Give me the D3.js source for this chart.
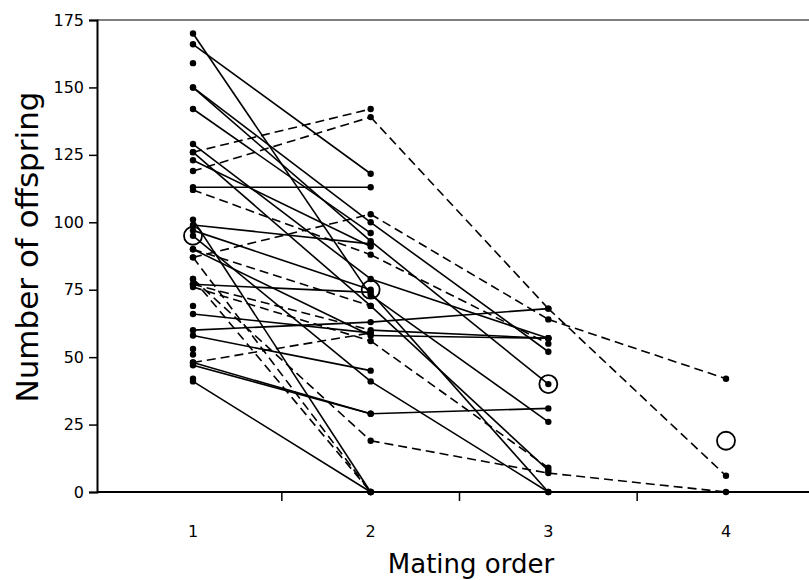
<!DOCTYPE html>
<html>
<head>
<meta charset="utf-8">
<script src="https://cdn.jsdelivr.net/npm/d3@7"></script>
<style>
  body { margin: 0; background: #fff; }
  text { font-family: "DejaVu Sans", Verdana, sans-serif; fill: #000; }
</style>
</head>
<body>
<div id="chart"></div>
<script>
// mating order chart: offspring per mating, one track per female

var orders = [1, 2, 3, 4];
var yTicks = [0, 25, 50, 75, 100, 125, 150, 175];
var betweenTicks = [1.5, 2.5, 3.5];

// offspring at mating 1, 2, 3, 4 for each female
var females = [
    [170, 73, 26],
    [166, 118],
    [159],
    [150, 100, 52],
    [150, 93, 40],
    [142, 96],
    [126, 142],
    [129, 79, 57],
    [126, 69, 8],
    [123, 91],
    [119, 139, 68, 6],
    [113, 113],
    [112, 88, 55],
    [101, 0],
    [99, 92],
    [97, 75],
    [95, 41, 0],
    [90, 58, 57],
    [87, 103, 64, 42],
    [90, 69],
    [87, 0],
    [79, 0],
    [79, 19, 7, 0],
    [77, 74, 0],
    [77, 60, 57],
    [76, 56, 9],
    [69],
    [66, 59],
    [60, 63, 68],
    [58, 45],
    [53],
    [51],
    [48, 59],
    [48, 29, 31],
    [47, 29],
    [42],
    [41, 0]
];

// line style of each segment: s = solid, d = dashed
var segStyles = [
    "ss", "s", "", "ss", "ss", "s", "d", "ss", "ss", "s",
    "ddd", "s", "dd", "s", "s", "s", "ss", "ss", "ddd", "d",
    "d", "d", "ddd", "ss", "ds", "dd", "", "s", "ss", "s",
    "", "", "d", "ss", "s", "", "s"
];

// mean offspring per mating order
var means = [95, 75, 40, 19];

var width = 809, height = 580;
var axisLeft = 97, axisRight = 809, plotTop = 20, plotBottom = 492;

var svg = d3.select("#chart")
    .append("svg")
    .attr("width", width)
    .attr("height", height);

var x = d3.scaleLinear().domain([1, 4]).range([193, 726]);
var y = d3.scaleLinear().domain([0, 175]).range([plotBottom, plotTop]);

// top frame line
svg.append("line")
    .attr("x1", axisLeft).attr("x2", axisRight)
    .attr("y1", plotTop).attr("y2", plotTop)
    .attr("stroke", "#000").attr("stroke-width", 1.2);

// segments
females.forEach(function(f, i) {
    for (var k = 0; k < f.length - 1; k++) {
        svg.append("line")
            .attr("x1", x(orders[k])).attr("y1", y(f[k]))
            .attr("x2", x(orders[k + 1])).attr("y2", y(f[k + 1]))
            .attr("stroke", "#000")
            .attr("stroke-width", 1.6)
            .attr("stroke-dasharray", segStyles[i][k] === "d" ? "9,5" : null);
    }
});

// dots
females.forEach(function(f) {
    svg.selectAll(null)
        .data(f)
        .enter()
        .append("circle")
        .attr("cx", function(d, k) { return x(orders[k]); })
        .attr("cy", function(d) { return y(d); })
        .attr("r", 3.2)
        .attr("fill", "#000");
});

// means as open circles
svg.selectAll(".mean")
    .data(means)
    .enter()
    .append("circle")
    .attr("class", "mean")
    .attr("cx", function(d, i) { return x(orders[i]); })
    .attr("cy", function(d) { return y(d); })
    .attr("r", 9)
    .attr("fill", "none")
    .attr("stroke", "#000")
    .attr("stroke-width", 1.8);

// y axis
var yAxis = svg.append("g")
    .attr("transform", "translate(" + axisLeft + ",0)")
    .call(d3.axisLeft(y).tickValues(yTicks).tickSize(8).tickPadding(5));
yAxis.select(".domain").attr("stroke-width", 2);
yAxis.selectAll(".tick line").attr("stroke-width", 1.5);
yAxis.selectAll("text").style("font-size", "16px").attr("fill", "#000");

// x axis: ticks between categories, labels under categories
var xAxis = svg.append("g")
    .attr("transform", "translate(0," + plotBottom + ")");
xAxis.append("line")
    .attr("x1", axisLeft).attr("x2", axisRight)
    .attr("stroke", "#000").attr("stroke-width", 2.2);
xAxis.selectAll(".xtick")
    .data(betweenTicks)
    .enter()
    .append("line")
    .attr("x1", function(d) { return x(d); })
    .attr("x2", function(d) { return x(d); })
    .attr("y1", 0).attr("y2", 9)
    .attr("stroke", "#000").attr("stroke-width", 1.5);
xAxis.selectAll(".xlabel")
    .data(orders)
    .enter()
    .append("text")
    .attr("x", function(d) { return x(d); })
    .attr("y", 45)
    .attr("text-anchor", "middle")
    .style("font-size", "16px")
    .text(function(d) { return d; });

// axis titles
svg.append("text")
    .attr("x", 471)
    .attr("y", 573)
    .attr("text-anchor", "middle")
    .style("font-size", "26px")
    .text("Mating order");

svg.append("text")
    .attr("transform", "translate(38," + 247 + ") rotate(-90)")
    .attr("text-anchor", "middle")
    .style("font-size", "31px")
    .text("Number of offspring");
</script>
</body>
</html>
